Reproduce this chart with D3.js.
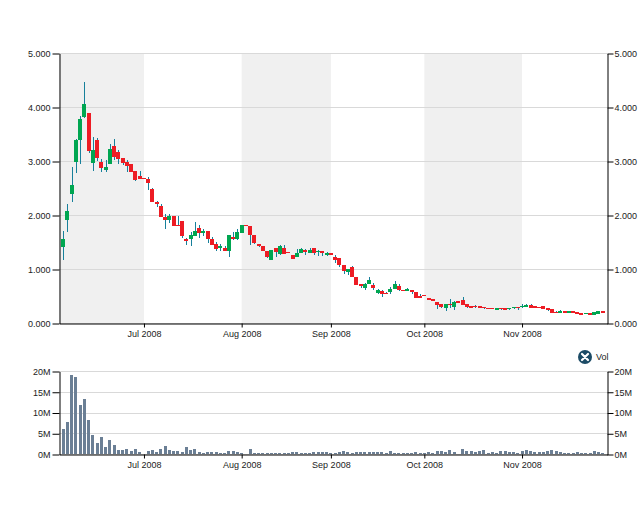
<!DOCTYPE html>
<html>
<head>
<meta charset="utf-8">
<script src="https://cdn.jsdelivr.net/npm/d3@7/dist/d3.min.js"></script>
<style>
  body { margin: 0; background: #fff; }
  svg text { font-family: Arial, "Liberation Sans", sans-serif; font-size: 9px; fill: #222; }
</style>
</head>
<body>
<svg width="640" height="514"></svg>
<script>
// trading days per month (day of month)
var juneDays = [4, 5, 6, 9, 10, 11, 12, 13, 16, 17, 18, 19, 20, 23, 24, 25, 26, 27, 30];
var julyDays = [1, 2, 3, 4, 7, 8, 9, 10, 11, 14, 15, 16, 17, 18, 21, 22, 23, 24, 25, 28, 29, 30, 31];
var augustDays = [1, 4, 5, 6, 7, 8, 11, 12, 13, 14, 15, 18, 19, 20, 21, 22, 25, 26, 27, 28, 29];
var septemberDays = [1, 2, 3, 4, 5, 8, 9, 10, 11, 12, 15, 16, 17, 18, 19, 22, 23, 24, 25, 26, 29, 30];
var octoberDays = [1, 2, 3, 6, 7, 8, 9, 10, 13, 14, 15, 16, 17, 20, 21, 22, 23, 24, 27, 28, 29, 30, 31];
var novemberDays = [3, 4, 5, 6, 7, 10, 11, 12, 13, 14, 17, 18, 19, 20, 21, 24, 25, 26, 27, 28];

var monthLabels = ['Jul 2008', 'Aug 2008', 'Sep 2008', 'Oct 2008', 'Nov 2008'];

var openPrices = [
  1.40, 1.90, 2.39, 2.98, 3.38, 3.82, 3.89, 2.96, 3.38, 2.99,
  2.84, 2.94, 3.28, 3.16, 3.06, 2.98, 2.95, 2.81, 2.72, 2.69,
  2.66, 2.48, 2.24, 2.17, 1.96, 1.91, 1.98, 1.82, 1.89, 1.55,
  1.55, 1.62, 1.76, 1.66, 1.71, 1.55, 1.47, 1.40, 1.39, 1.33,
  1.60, 1.56, 1.66, 1.82, 1.80, 1.63, 1.47, 1.43, 1.34, 1.16,
  1.39, 1.28, 1.39, 1.32, 1.26, 1.22, 1.30, 1.36, 1.30, 1.39,
  1.33, 1.33, 1.28, 1.29, 1.23, 1.20, 1.07, 0.94, 1.04, 0.86,
  0.73, 0.65, 0.72, 0.71, 0.56, 0.59, 0.56, 0.57, 0.63, 0.69,
  0.62, 0.60, 0.61, 0.57, 0.50, 0.52, 0.46, 0.44, 0.39, 0.35,
  0.27, 0.36, 0.30, 0.40, 0.43, 0.36, 0.32, 0.32, 0.32, 0.30,
  0.28, 0.28, 0.25, 0.28, 0.27, 0.26, 0.28, 0.30, 0.29, 0.30,
  0.33, 0.32, 0.30, 0.32, 0.28, 0.26, 0.21, 0.20, 0.22, 0.20,
  0.22, 0.20, 0.18, 0.17, 0.19, 0.15, 0.17, 0.22
];
var highPrices = [
  1.71, 2.20, 2.88, 3.40, 3.83, 4.47, 3.89, 3.45, 3.43, 3.04,
  3.02, 3.32, 3.41, 3.21, 3.06, 3.01, 2.95, 2.81, 2.81, 2.69,
  2.70, 2.50, 2.26, 2.21, 2.01, 2.02, 1.98, 1.99, 1.89, 1.57,
  1.68, 1.87, 1.82, 1.74, 1.71, 1.59, 1.50, 1.47, 1.43, 1.63,
  1.68, 1.74, 1.82, 1.82, 1.80, 1.63, 1.47, 1.43, 1.34, 1.36,
  1.39, 1.45, 1.45, 1.32, 1.26, 1.37, 1.39, 1.37, 1.38, 1.39,
  1.36, 1.34, 1.32, 1.29, 1.26, 1.20, 1.07, 1.00, 1.06, 0.86,
  0.73, 0.74, 0.85, 0.74, 0.63, 0.61, 0.57, 0.67, 0.78, 0.72,
  0.62, 0.64, 0.61, 0.57, 0.54, 0.52, 0.46, 0.44, 0.39, 0.35,
  0.35, 0.44, 0.40, 0.40, 0.48, 0.36, 0.32, 0.33, 0.32, 0.30,
  0.28, 0.28, 0.28, 0.28, 0.27, 0.28, 0.30, 0.30, 0.35, 0.35,
  0.35, 0.32, 0.30, 0.32, 0.28, 0.26, 0.22, 0.24, 0.22, 0.23,
  0.22, 0.20, 0.18, 0.19, 0.19, 0.20, 0.22, 0.22
];
var lowPrices = [
  1.16, 1.69, 2.25, 2.78, 2.94, 3.79, 3.14, 2.81, 3.00, 2.79,
  2.80, 2.94, 3.01, 2.95, 2.92, 2.79, 2.79, 2.63, 2.66, 2.67,
  2.47, 2.25, 2.15, 1.97, 1.75, 1.85, 1.80, 1.80, 1.58, 1.44,
  1.42, 1.62, 1.58, 1.61, 1.49, 1.44, 1.34, 1.34, 1.33, 1.23,
  1.54, 1.54, 1.66, 1.80, 1.44, 1.47, 1.41, 1.33, 1.20, 1.16,
  1.23, 1.26, 1.28, 1.29, 1.18, 1.22, 1.30, 1.26, 1.30, 1.26,
  1.25, 1.25, 1.25, 1.27, 1.12, 1.03, 0.91, 0.88, 0.86, 0.71,
  0.65, 0.62, 0.72, 0.61, 0.54, 0.49, 0.54, 0.54, 0.63, 0.59,
  0.60, 0.60, 0.54, 0.47, 0.47, 0.51, 0.43, 0.40, 0.26, 0.27,
  0.22, 0.27, 0.24, 0.38, 0.34, 0.28, 0.28, 0.27, 0.27, 0.26,
  0.27, 0.26, 0.25, 0.25, 0.24, 0.25, 0.26, 0.25, 0.28, 0.30,
  0.28, 0.27, 0.28, 0.26, 0.22, 0.19, 0.19, 0.19, 0.20, 0.19,
  0.20, 0.16, 0.16, 0.17, 0.15, 0.15, 0.17, 0.21
];
var closePrices = [
  1.56, 2.07, 2.55, 3.39, 3.78, 4.06, 3.18, 3.21, 3.05, 2.87,
  2.88, 3.23, 3.07, 3.03, 2.96, 2.90, 2.80, 2.65, 2.66, 2.67,
  2.59, 2.25, 2.23, 1.97, 1.91, 1.99, 1.80, 1.80, 1.62, 1.54,
  1.63, 1.71, 1.67, 1.71, 1.55, 1.45, 1.37, 1.42, 1.33, 1.63,
  1.56, 1.69, 1.82, 1.80, 1.63, 1.48, 1.42, 1.33, 1.22, 1.36,
  1.32, 1.43, 1.28, 1.29, 1.19, 1.30, 1.37, 1.31, 1.36, 1.29,
  1.34, 1.31, 1.29, 1.27, 1.17, 1.08, 0.97, 1.00, 0.86, 0.71,
  0.69, 0.72, 0.80, 0.65, 0.61, 0.53, 0.54, 0.63, 0.72, 0.61,
  0.60, 0.63, 0.57, 0.47, 0.49, 0.51, 0.43, 0.43, 0.33, 0.30,
  0.35, 0.34, 0.39, 0.38, 0.34, 0.30, 0.28, 0.30, 0.28, 0.28,
  0.27, 0.27, 0.28, 0.27, 0.25, 0.28, 0.30, 0.28, 0.32, 0.34,
  0.28, 0.27, 0.28, 0.26, 0.24, 0.19, 0.20, 0.22, 0.21, 0.22,
  0.20, 0.17, 0.17, 0.19, 0.15, 0.20, 0.22, 0.21
];
// volume in millions
var volumes = [
  6.0, 7.7, 19.0, 18.6, 11.8, 13.3, 8.2, 4.6, 2.7, 4.1,
  1.8, 3.4, 2.2, 1.0, 1.0, 1.2, 0.8, 1.2, 0.5, 0.05,
  0.8, 1.0, 0.5, 1.2, 2.0, 1.0, 0.8, 0.8, 0.5, 1.8,
  1.0, 1.3, 0.5, 0.3, 0.5, 0.5, 0.5, 0.3, 0.3, 0.8,
  0.8, 0.5, 0.3, 0.1, 1.3, 0.3, 0.3, 0.3, 0.3, 0.3,
  0.3, 0.3, 0.3, 0.3, 0.5, 0.5, 0.3, 0.3, 0.3, 0.5,
  0.5, 0.5, 0.5, 0.3, 0.3, 0.5, 0.8, 0.5, 0.3, 0.5,
  0.5, 0.5, 0.5, 0.5, 0.5, 0.5, 0.3, 0.7, 0.3, 0.3,
  0.3, 0.3, 0.3, 0.5, 0.3, 0.3, 0.5, 0.3, 0.8, 0.8,
  0.5, 1.0, 0.5, 0.1, 1.3, 0.8, 0.7, 0.5, 0.8, 1.0,
  0.3, 0.5, 0.3, 0.8, 0.8, 0.5, 0.5, 0.3, 0.8, 1.0,
  0.8, 0.5, 0.5, 0.5, 0.8, 1.0, 0.8, 0.5, 0.3, 0.3,
  0.3, 0.5, 0.3, 0.3, 0.3, 0.8, 0.5, 0.3
];

var priceTicks = [0, 1, 2, 3, 4, 5];
var volumeTicks = [0, 5, 10, 15, 20];

var UP = '#00a651', DOWN = '#ed1c24', WICK = '#17809b', VOL = '#6b7f95';
var SHADE = '#f0f0f0', GRID = '#d9d9d9';

var left = 59, right = 607;
var priceTop = 53, priceBottom = 323;
var volTop = 371, volBottom = 454;

/**
 * Build 'YYYY-MM-DD' keys for one month of trading days
 */
function monthKeys(month, days) {
  return days.map(function (d) {
    return '2008-' + month + '-' + (d < 10 ? '0' + d : d);
  });
}

var dates = [].concat(
  monthKeys('06', juneDays), monthKeys('07', julyDays), monthKeys('08', augustDays),
  monthKeys('09', septemberDays), monthKeys('10', octoberDays), monthKeys('11', novemberDays)
);
// first trading day of each labelled month
var monthStarts = [
  monthKeys('07', julyDays)[0], monthKeys('08', augustDays)[0], monthKeys('09', septemberDays)[0],
  monthKeys('10', octoberDays)[0], monthKeys('11', novemberDays)[0]
];

var bars = dates.map(function (d, i) {
  return { date: d, open: openPrices[i], high: highPrices[i], low: lowPrices[i],
    close: closePrices[i], volume: volumes[i] };
});

var x = d3.scaleBand().domain(dates).range([left, right])
  .paddingInner(0.05).paddingOuter(0.525);
var yPrice = d3.scaleLinear().domain([0, 5]).range([priceBottom, priceTop]);
var yVol = d3.scaleLinear().domain([0, 20]).range([volBottom, volTop]);

function cx(d) { return x(d) + x.bandwidth() / 2; }

var svg = d3.select('svg');

function drawShading() {
  // alternating month bands: Jun, Aug, Oct
  var bands = [[left, cx(monthStarts[0])], [cx(monthStarts[1]), cx(monthStarts[2])],
    [cx(monthStarts[3]), cx(monthStarts[4])]];
  svg.append('g').selectAll('rect').data(bands).enter().append('rect')
    .attr('x', function (b) { return b[0]; })
    .attr('y', priceTop)
    .attr('width', function (b) { return b[1] - b[0]; })
    .attr('height', priceBottom - priceTop)
    .attr('fill', SHADE);
}

function drawGrid(scale, ticks) {
  svg.append('g').selectAll('line').data(ticks).enter().append('line')
    .attr('x1', left).attr('x2', right)
    .attr('y1', function (t) { return Math.round(scale(t)) + 0.5; })
    .attr('y2', function (t) { return Math.round(scale(t)) + 0.5; })
    .attr('stroke', GRID);
}

function drawCandles() {
  var g = svg.append('g').attr('shape-rendering', 'crispEdges');
  var bw = x.bandwidth();

  g.selectAll('line').data(bars).enter().append('line')
    .attr('x1', function (d) { return Math.round(cx(d.date)) + 0.5; })
    .attr('x2', function (d) { return Math.round(cx(d.date)) + 0.5; })
    .attr('y1', function (d) { return yPrice(d.high); })
    .attr('y2', function (d) { return yPrice(d.low); })
    .attr('stroke', WICK);

  g.selectAll('rect').data(bars).enter().append('rect')
    .attr('x', function (d) { return Math.round(cx(d.date) - bw / 2); })
    .attr('width', Math.round(bw))
    .attr('y', function (d) { return yPrice(Math.max(d.open, d.close)); })
    .attr('height', function (d) {
      return Math.max(1.5, Math.abs(yPrice(d.open) - yPrice(d.close)));
    })
    .attr('fill', function (d) { return d.close >= d.open ? UP : DOWN; });
}

function drawVolume() {
  var w = 3;
  svg.append('g').attr('shape-rendering', 'crispEdges')
    .selectAll('rect').data(bars).enter().append('rect')
    .attr('x', function (d) { return Math.round(cx(d.date) - w / 2); })
    .attr('width', w)
    .attr('y', function (d) { return yVol(d.volume); })
    .attr('height', function (d) { return yVol(0) - yVol(d.volume); })
    .attr('fill', VOL);
}

function styleAxis(g) {
  g.selectAll('.domain').attr('stroke', '#000');
  g.selectAll('.tick line').attr('stroke', '#000');
  g.selectAll('text').attr('font-family', null).attr('font-size', null).attr('fill', '#222');
  g.attr('font-family', null).attr('font-size', null);
}

function drawAxes() {
  var fmtPrice = d3.format('.3f');
  var fmtVol = function (v) { return v + 'M'; };
  var fmtMonth = function (d, i) { return monthLabels[i]; };

  // price panel
  svg.append('g').attr('transform', 'translate(' + (left + 0.5) + ',0.5)')
    .call(d3.axisLeft(yPrice).tickValues(priceTicks).tickFormat(fmtPrice)
      .tickSize(7).tickSizeOuter(0).tickPadding(2)).call(styleAxis);
  svg.append('g').attr('transform', 'translate(' + (right + 0.5) + ',0.5)')
    .call(d3.axisRight(yPrice).tickValues(priceTicks).tickFormat(fmtPrice)
      .tickSize(6).tickSizeOuter(0).tickPadding(1)).call(styleAxis);
  svg.append('g').attr('transform', 'translate(0.5,' + (priceBottom + 0.5) + ')')
    .call(d3.axisBottom(x).tickValues(monthStarts).tickFormat(fmtMonth)
      .tickSize(4).tickSizeOuter(0)).call(styleAxis);

  // volume panel
  svg.append('g').attr('transform', 'translate(' + (left + 0.5) + ',0.5)')
    .call(d3.axisLeft(yVol).tickValues(volumeTicks).tickFormat(fmtVol)
      .tickSize(7).tickSizeOuter(0).tickPadding(2)).call(styleAxis);
  svg.append('g').attr('transform', 'translate(' + (right + 0.5) + ',0.5)')
    .call(d3.axisRight(yVol).tickValues(volumeTicks).tickFormat(fmtVol)
      .tickSize(6).tickSizeOuter(0).tickPadding(1)).call(styleAxis);
  svg.append('g').attr('transform', 'translate(0.5,' + (volBottom + 0.5) + ')')
    .call(d3.axisBottom(x).tickValues(monthStarts).tickFormat(fmtMonth)
      .tickSize(4).tickSizeOuter(0)).call(styleAxis);
}

function drawLegend() {
  var g = svg.append('g').attr('transform', 'translate(585,357)');
  g.append('circle').attr('r', 7).attr('fill', '#1c4b66');
  g.append('path').attr('d', 'M-3,-3L3,3M3,-3L-3,3')
    .attr('stroke', '#fff').attr('stroke-width', 2.2).attr('stroke-linecap', 'round');
  g.append('text').attr('x', 11).attr('y', 3).text('Vol');
}

drawShading();
drawGrid(yPrice, priceTicks);
drawGrid(yVol, volumeTicks);
drawCandles();
drawVolume();
drawAxes();
drawLegend();
</script>
</body>
</html>
